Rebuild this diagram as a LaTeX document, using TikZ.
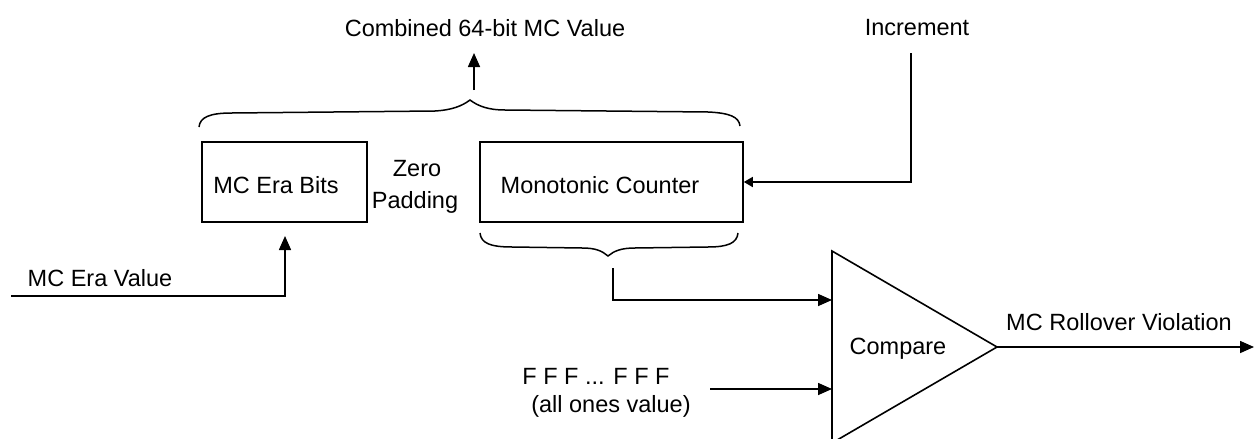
\documentclass[tikz,border=0pt]{standalone}
\usepackage{fontspec}
\setmainfont{Liberation Sans}
\usetikzlibrary{arrows.meta}
\begin{document}
\begin{tikzpicture}[x=1pt,y=-1pt,
  wire/.style={line width=1.6pt},
  bigarrow/.style={wire,-{Triangle[length=14pt,width=12pt]}},
  smallarrow/.style={wire,-{Triangle[length=9pt,width=10pt]}},
  box/.style={draw,line width=1.6pt,minimum width=165pt,minimum height=80pt,inner sep=0pt},
  txt/.style={font=\fontsize{23.5}{27}\selectfont,inner sep=0pt},
  bracestyle/.style={line width=1.5pt}]
\clip (0,0) rectangle (1254,439);
\path[use as bounding box] (0,0) rectangle (1254,439);

% boxes
\node[box] (era) at (284.5,182) {};
\node[box,minimum width=263pt] (mono) at (611.5,182) {};
\node[txt] (eratxt) at (276,185) {MC Era Bits};
\node[txt] (monotxt) at (600,185) {Monotonic Counter};
\node[txt] (zero) at (417,169) {Zero};
\node[txt] (padding) at (415,202) {Padding};

% texts
\node[txt] (combined) at (485,28) {Combined 64-bit MC Value};
\node[txt] (incr) at (917,28) {Increment};
\node[txt] (eraval) at (100,278) {MC Era Value};
\node[txt] (fff) at (596,376) {F F F ... F F F};
\node[txt] (ones) at (611,406) {(all ones value)};
\node[txt] (viol) at (1119,322) {MC Rollover Violation};

% braces
\draw[bracestyle] (199,127) .. controls (200,117) and (210,113) .. (232,113)
  -- (435,111) .. controls (452,110) and (462,106) .. (470,100)
  .. controls (478,106) and (488,110) .. (505,110)
  -- (708,112) .. controls (730,113) and (739,117) .. (740,126);
\coordinate (toptip) at (474,90);
\draw[bracestyle] (480,233) .. controls (481,243) and (490,247) .. (512,247)
  -- (582,248) .. controls (596,248) and (602,251) .. (608,256)
  .. controls (614,251) and (621,248) .. (635,248)
  -- (708,247) .. controls (728,247) and (737,243) .. (738,233);
\coordinate (bottip) at (613,268);

% comparator
\coordinate (triA) at (832,251);
\coordinate (triB) at (832,443);
\coordinate (triC) at (997,347);
\draw[wire,line join=miter] (triA) -- (triC) -- (triB) -- cycle;
\node[txt] (cmp) at (898,349) {Compare};
\coordinate (in1) at (832,300);
\coordinate (in2) at (832,389);

% connectors
\coordinate (combtip) at (474,53);
\draw[bigarrow] (toptip) -- (combtip);

\coordinate (incrtop) at (911,53);
\draw[smallarrow] (incrtop) |- (mono.east);

\coordinate (erastart) at (11,296);
\coordinate (eratip) at (285,236);
\draw[bigarrow] (erastart) -| (eratip);

\draw[bigarrow] (bottip) |- (in1);

\coordinate (fffstart) at (710,389);
\draw[bigarrow] (fffstart) -- (in2);

\coordinate (outend) at (1254,347);
\draw[bigarrow] (triC) -- (outend);
\end{tikzpicture}
\end{document}
